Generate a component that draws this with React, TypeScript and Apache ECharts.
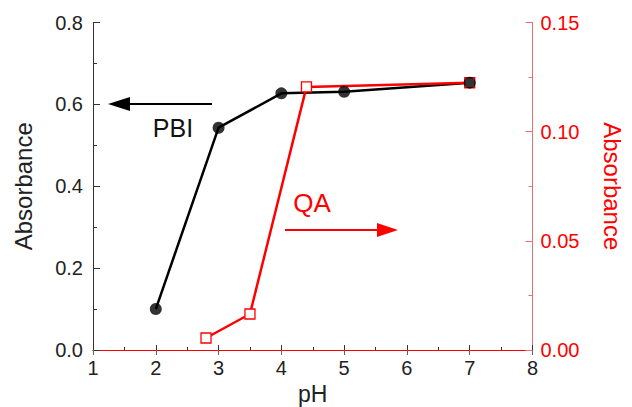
import React, { useEffect, useRef } from "react";
import * as echarts from "echarts";

const pbiPH = [2, 3, 4, 5, 7];
const pbiAbs = [0.1, 0.543, 0.627, 0.631, 0.653];
const qaPH = [2.8, 3.5, 4.4, 7];
const qaAbs = [0.0055, 0.0165, 0.1205, 0.1224];

const FONT = "Liberation Sans, Arial, sans-serif";
const RED = "#ff0000";

export default function App() {
  const ref = useRef<HTMLDivElement>(null);
  useEffect(() => {
    if (!ref.current) return;
    const chart = echarts.init(ref.current, undefined, { renderer: "svg" });
    const pbi = pbiPH.map((x, i) => [x, pbiAbs[i]]);
    const qa = qaPH.map((x, i) => [x, qaAbs[i]]);
    chart.setOption({
      animation: false,
      backgroundColor: "#ffffff",
      textStyle: { fontFamily: FONT },
      grid: {
        left: 93,
        top: 22.5,
        right: 99.5,
        bottom: 57,
        containLabel: false,
        outerBoundsMode: "none",
      },
      xAxis: [
        {
          type: "value",
          position: "bottom",
          min: 1,
          max: 8,
          interval: 1,
          name: "pH",
          nameLocation: "middle",
          nameGap: 32,
          nameTextStyle: { fontSize: 23, color: "#222", fontFamily: FONT },
          axisLine: { lineStyle: { color: "#333", width: 1 } },
          axisTick: { inside: true, length: 5, lineStyle: { color: "#333" } },
          minorTick: { show: true, splitNumber: 2, length: 3, lineStyle: { color: "#333" } },
          axisLabel: { fontSize: 20, color: "#222", margin: 8, fontFamily: FONT },
          splitLine: { show: false },
        },
        {
          type: "value",
          position: "top",
          min: 1,
          max: 8,
          interval: 1,
          axisLine: { lineStyle: { color: RED, width: 1 } },
          axisTick: { inside: true, length: 5, lineStyle: { color: "#666" } },
          axisLabel: { show: false },
          splitLine: { show: false },
        },
      ],
      yAxis: [
        {
          type: "value",
          position: "left",
          min: 0,
          max: 0.8,
          interval: 0.2,
          name: "Absorbance",
          nameLocation: "middle",
          nameGap: 58,
          nameTextStyle: { fontSize: 24, color: "#222", fontFamily: FONT },
          axisLine: { show: true, lineStyle: { color: "#333", width: 1 } },
          axisTick: { show: true, inside: true, length: 7, lineStyle: { color: "#333" } },
          minorTick: { show: true, splitNumber: 2, length: 4, lineStyle: { color: "#333" } },
          axisLabel: {
            fontSize: 20,
            color: "#222",
            margin: 10,
            fontFamily: FONT,
            formatter: (v: number) => v.toFixed(1),
          },
          splitLine: { show: false },
        },
        {
          type: "value",
          position: "right",
          min: 0,
          max: 0.15,
          interval: 0.05,
          name: "Absorbance",
          nameLocation: "middle",
          nameGap: 68,
          nameRotate: -90,
          nameTextStyle: { fontSize: 24, color: RED, fontFamily: FONT },
          axisLine: { show: true, lineStyle: { color: "#e87070", width: 1 } },
          axisTick: { show: true, inside: true, length: 7, lineStyle: { color: "#e87070" } },
          minorTick: { show: true, splitNumber: 2, length: 4, lineStyle: { color: "#e87070" } },
          axisLabel: {
            fontSize: 20,
            color: RED,
            margin: 8,
            fontFamily: FONT,
            formatter: (v: number) => v.toFixed(2),
          },
          splitLine: { show: false },
        },
      ],
      series: [
        {
          name: "PBI line",
          type: "line",
          data: pbi,
          xAxisIndex: 0,
          yAxisIndex: 0,
          showSymbol: false,
          symbol: "none",
          lineStyle: { color: "#000", width: 2.5 },
          z: 2,
        },
        {
          name: "QA",
          type: "line",
          data: qa,
          xAxisIndex: 0,
          yAxisIndex: 1,
          symbol: "rect",
          symbolSize: 10,
          itemStyle: { color: "#fff", borderColor: RED, borderWidth: 1.3 },
          lineStyle: { color: RED, width: 2.5 },
          z: 3,
        },
        {
          name: "PBI",
          type: "scatter",
          data: pbi,
          xAxisIndex: 0,
          yAxisIndex: 0,
          symbol: "circle",
          symbolSize: 12,
          itemStyle: { color: "#000" },
          z: 4,
        },
      ],
      graphic: [
        {
          type: "text",
          x: 173,
          y: 128,
          style: {
            text: "PBI",
            fontSize: 25,
            fontFamily: FONT,
            fill: "#111",
            align: "center",
            verticalAlign: "middle",
          },
        },
        {
          type: "line",
          shape: { x1: 212, y1: 104, x2: 128, y2: 104 },
          style: { stroke: "#000", lineWidth: 2 },
        },
        {
          type: "polygon",
          shape: { points: [[108, 104], [130, 97], [130, 111]] },
          style: { fill: "#000" },
        },
        {
          type: "text",
          x: 312,
          y: 203,
          style: {
            text: "QA",
            fontSize: 26,
            fontFamily: FONT,
            fill: RED,
            align: "center",
            verticalAlign: "middle",
          },
        },
        {
          type: "line",
          shape: { x1: 285, y1: 230, x2: 380, y2: 230 },
          style: { stroke: RED, lineWidth: 2 },
        },
        {
          type: "polygon",
          shape: { points: [[398, 230], [377, 223], [377, 237]] },
          style: { fill: RED },
        },
      ],
    });
    return () => chart.dispose();
  }, []);
  return <div ref={ref} style={{ width: 632, height: 407, position: "absolute", left: 0, top: 0 }} />;
}
